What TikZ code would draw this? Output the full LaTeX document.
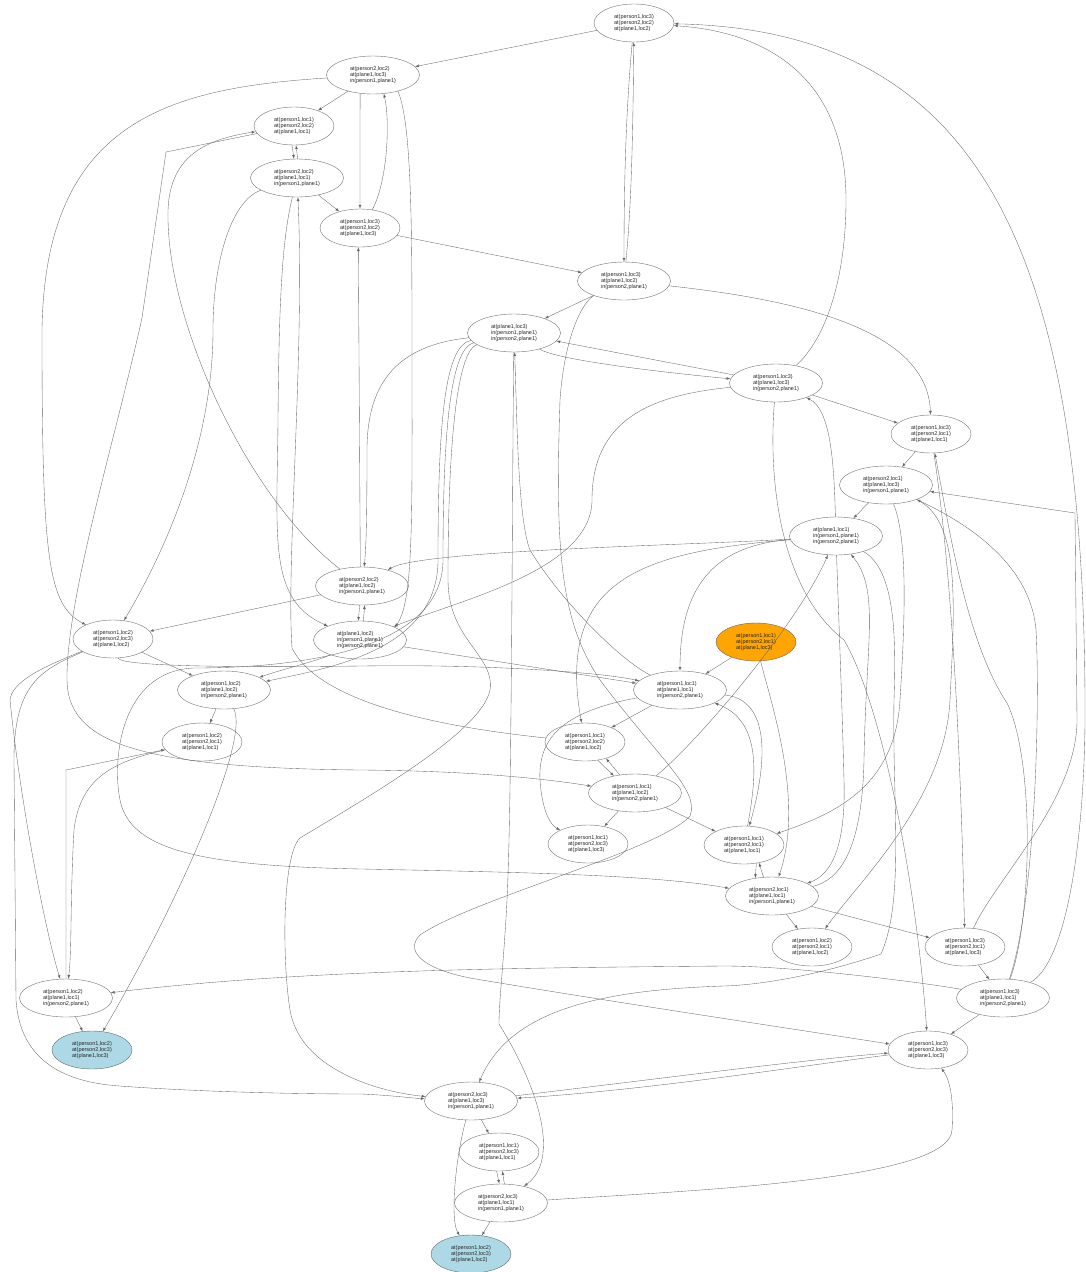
\documentclass[tikz,border=0pt]{standalone}
\usepackage{fontspec}
\setmainfont{Liberation Sans}
\usetikzlibrary{shapes.geometric}
\definecolor{lightblue}{HTML}{ADD8E6}
\definecolor{initorange}{HTML}{FFA500}
\tikzset{
  state/.style={ellipse, draw=black!55, line width=0.4pt, inner sep=0pt,
    minimum width=93pt, minimum height=38pt, align=left, text=black!85,
    font=\fontsize{5.5}{6.4}\selectfont},
  atstate/.style={state, minimum width=80pt},
  initstate/.style={atstate, fill=initorange, draw=black!60},
  goalstate/.style={atstate, fill=lightblue, draw=black!60},
  trans/.style={draw=black!60, line width=0.35pt, -latex},
}
\begin{document}
\begin{tikzpicture}[x=1pt,y=-1pt]
\useasboundingbox (0,0) rectangle (1086,1272);
% states
\node[atstate] (s01) at (634,23) {at(person1,loc3)\\at(person2,loc2)\\at(plane1,loc2)};
\node[state] (s02) at (373,75) {at(person2,loc2)\\at(plane1,loc3)\\in(person1,plane1)};
\node[atstate] (s03) at (294,126) {at(person1,loc1)\\at(person2,loc2)\\at(plane1,loc1)};
\node[state] (s04) at (297,178) {at(person2,loc2)\\at(plane1,loc1)\\in(person1,plane1)};
\node[atstate] (s05) at (360,228) {at(person1,loc3)\\at(person2,loc2)\\at(plane1,loc3)};
\node[state] (s06) at (624,281) {at(person1,loc3)\\at(plane1,loc2)\\in(person2,plane1)};
\node[state] (s07) at (514,333) {at(plane1,loc3)\\in(person1,plane1)\\in(person2,plane1)};
\node[state] (s08) at (776,383) {at(person1,loc3)\\at(plane1,loc3)\\in(person2,plane1)};
\node[atstate] (s09) at (931,434) {at(person1,loc3)\\at(person2,loc1)\\at(plane1,loc1)};
\node[state] (s10) at (886,485) {at(person2,loc1)\\at(plane1,loc3)\\in(person1,plane1)};
\node[state] (s11) at (836,536) {at(plane1,loc1)\\in(person1,plane1)\\in(person2,plane1)};
\node[initstate] (s12) at (756,642) {at(person1,loc1)\\at(person2,loc1)\\at(plane1,loc3)};
\node[state] (s13) at (362,586) {at(person2,loc2)\\at(plane1,loc2)\\in(person1,plane1)};
\node[state] (s14) at (360,640) {at(plane1,loc2)\\in(person1,plane1)\\in(person2,plane1)};
\node[atstate] (s15) at (113,639) {at(person1,loc2)\\at(person2,loc3)\\at(plane1,loc2)};
\node[state] (s16) at (224,690) {at(person1,loc2)\\at(plane1,loc2)\\in(person2,plane1)};
\node[atstate] (s17) at (202,742) {at(person1,loc2)\\at(person2,loc1)\\at(plane1,loc1)};
\node[state] (s18) at (680,690) {at(person1,loc1)\\at(plane1,loc1)\\in(person2,plane1)};
\node[atstate] (s19) at (585,742) {at(person1,loc1)\\at(person2,loc2)\\at(plane1,loc2)};
\node[state] (s20) at (635,793) {at(person1,loc1)\\at(plane1,loc2)\\in(person2,plane1)};
\node[atstate] (s21) at (588,844) {at(person1,loc1)\\at(person2,loc3)\\at(plane1,loc3)};
\node[atstate] (s22) at (744,845) {at(person1,loc1)\\at(person2,loc1)\\at(plane1,loc1)};
\node[state] (s23) at (772,896) {at(person2,loc1)\\at(plane1,loc1)\\in(person1,plane1)};
\node[atstate] (s24) at (812,947) {at(person1,loc2)\\at(person2,loc1)\\at(plane1,loc2)};
\node[atstate] (s25) at (965,947) {at(person1,loc3)\\at(person2,loc1)\\at(plane1,loc3)};
\node[state] (s26) at (1003,998) {at(person1,loc3)\\at(plane1,loc1)\\in(person2,plane1)};
\node[atstate] (s27) at (928,1050) {at(person1,loc3)\\at(person2,loc3)\\at(plane1,loc3)};
\node[state] (s28) at (66,998) {at(person1,loc2)\\at(plane1,loc1)\\in(person2,plane1)};
\node[goalstate] (s29) at (92,1050) {at(person1,loc2)\\at(person2,loc3)\\at(plane1,loc3)};
\node[state] (s30) at (471,1101) {at(person2,loc3)\\at(plane1,loc3)\\in(person1,plane1)};
\node[atstate] (s31) at (499,1152) {at(person1,loc1)\\at(person2,loc3)\\at(plane1,loc1)};
\node[state] (s32) at (501,1203) {at(person2,loc3)\\at(plane1,loc1)\\in(person1,plane1)};
\node[goalstate] (s33) at (471,1254) {at(person1,loc2)\\at(person2,loc3)\\at(plane1,loc2)};
% transitions, upper part
\draw[trans] (s01) -- (s02);
\draw[trans] (s01) .. controls (625,120) and (624,200) .. (s06);
\draw[trans] (s06) .. controls (632,200) and (633,120) .. (s01);
\draw[trans] (s26) .. controls (1070,960) and (1086,820) .. (1085,700) .. controls (1083,250) and (980,30) .. (s01);
\draw[trans] (s08) .. controls (825,340) and (846,280) .. (846,200) .. controls (846,80) and (770,32) .. (s01);
\draw[trans] (s02) -- (s03);
\draw[trans] (s02) .. controls (170,88) and (45,120) .. (42,330) .. controls (42,560) and (48,605) .. (s15);
\draw[trans] (s02.-125) -- (s05.north);
\draw[trans] (s05.56) .. controls (388,180) and (390,120) .. (s02.-60);
\draw[trans] (s02.-33) .. controls (410,120) and (412,200) .. (412,330) .. controls (412,520) and (414,600) .. (s14.20);
\draw[trans] (s03.-96) -- (s04.99);
\draw[trans] (s04.88) -- (s03.-84);
\draw[trans] (s04) -- (s05);
\draw[trans] (s13) .. controls (250,500) and (170,330) .. (168,220) .. controls (166,160) and (200,140) .. (s03);
\draw[trans] (s03) -- (166,152) -- (142,318) .. controls (115,440) and (66,600) .. (67,680) .. controls (68,740) and (130,768) .. (362,770) .. controls (470,771) and (540,778) .. (s20);
\draw[trans] (s04) .. controls (232,200) and (213,260) .. (213,330) .. controls (213,450) and (160,560) .. (s15);
\draw[trans] (s04) .. controls (282,240) and (279,300) .. (278,420) .. controls (277,540) and (268,600) .. (s14);
\draw[trans] (s19) .. controls (450,728) and (320,705) .. (292,648) .. controls (286,560) and (305,350) .. (s04);
\draw[trans] (s05) -- (s06);
\draw[trans] (s06) -- (s07);
\draw[trans] (s06) .. controls (800,300) and (928,330) .. (s09);
\draw[trans] (s08) -- (s07);
\draw[trans] (s07) .. controls (560,362) and (700,376) .. (s08);
\draw[trans] (s08) -- (s09);
\draw[trans] (s09) -- (s10);
\draw[trans] (s10) -- (s11);
\draw[trans] (s11) .. controls (834,470) and (832,410) .. (s08);
\draw[trans] (s08) .. controls (768,480) and (780,590) .. (844,640) .. controls (885,710) and (918,900) .. (s27);
\draw[trans] (s07) .. controls (400,345) and (367,380) .. (367,450) .. controls (367,520) and (366,550) .. (s13);
\draw[trans] (s13.95) -- (s05.-95);
\draw[trans] (s13.-97) -- (s14.95);
\draw[trans] (s14.80) -- (s13.-82);
\draw[trans] (s13) -- (s15);
\draw[trans] (s08) .. controls (650,395) and (592,420) .. (592,500) .. controls (592,570) and (460,600) .. (s14);
% transitions from the middle state
\draw[trans] (s07) .. controls (445,345) and (438,420) .. (438,560) .. controls (438,650) and (330,668) .. (s16);
\draw[trans] (s07) .. controls (452,348) and (443,420) .. (443,560) .. controls (443,650) and (300,668) .. (193,668) .. controls (120,672) and (112,760) .. (120,800) .. controls (130,850) and (200,866) .. (362,869) .. controls (500,872) and (650,874) .. (s23);
\draw[trans] (s07) .. controls (460,350) and (448,420) .. (448,580) .. controls (448,640) and (495,655) .. (490,690) .. controls (482,730) and (380,790) .. (300,838) .. controls (282,855) and (282,960) .. (290,1010) .. controls (300,1070) and (380,1092) .. (s30);
\draw[trans] (s18) .. controls (620,660) and (560,600) .. (530,550) .. controls (518,520) and (517,420) .. (s07);
\draw[trans] (s07) .. controls (512,500) and (512,800) .. (507,900) .. controls (504,960) and (499,1000) .. (499,1024) .. controls (540,1090) and (560,1160) .. (s32);
\draw[trans] (s06) .. controls (585,300) and (565,330) .. (560,400) .. controls (555,550) and (560,620) .. (600,680) .. controls (660,760) and (700,790) .. (690,816) .. controls (660,850) and (470,900) .. (420,935) .. controls (405,950) and (420,968) .. (470,978) .. controls (600,1000) and (800,1030) .. (s27);
% right part
\draw[trans] (s26) .. controls (1032,920) and (1035,760) .. (1007,703) .. controls (965,640) and (948,520) .. (s09);
\draw[trans] (s09) .. controls (956,600) and (962,820) .. (s25);
\draw[trans] (s25) -- (s26);
\draw[trans] (s26) -- (s27);
\draw[trans] (s10) .. controls (960,520) and (955,600) .. (950,700) .. controls (945,800) and (860,880) .. (s24);
\draw[trans] (s26) .. controls (1036,900) and (1040,700) .. (1036,630) .. controls (1030,560) and (960,520) .. (s10);
\draw[trans] (s25) .. controls (995,880) and (1077,800) .. (1077,720) -- (1075,513) -- (s10);
\draw[trans] (s10) .. controls (908,540) and (905,620) .. (900,700) .. controls (895,790) and (830,815) .. (s22);
\draw[trans] (s11) .. controls (896,570) and (896,640) .. (894,700) .. controls (892,800) and (905,900) .. (881,954) .. controls (820,975) and (760,985) .. (724,986) .. controls (600,990) and (510,1010) .. (s30);
\draw[trans] (s23) .. controls (840,880) and (862,850) .. (864,760) .. controls (866,640) and (880,590) .. (s11);
\draw[trans] (s11) .. controls (838,600) and (842,700) .. (844,780) .. controls (846,850) and (830,875) .. (s23);
\draw[trans] (s26) .. controls (940,985) and (800,966) .. (724,966) .. controls (500,968) and (300,970) .. (s28);
% lower middle
\draw[trans] (s11) .. controls (700,545) and (420,550) .. (s13);
\draw[trans] (s11) .. controls (720,545) and (680,580) .. (s18);
\draw[trans] (s11) .. controls (640,552) and (556,580) .. (s19);
\draw[trans] (s20) .. controls (700,740) and (800,620) .. (s11);
\draw[trans] (s12) -- (s18);
\draw[trans] (s12) .. controls (770,700) and (805,800) .. (s23);
\draw[trans] (s18) -- (s19);
\draw[trans] (s18) .. controls (560,712) and (538,740) .. (540,780) .. controls (542,810) and (550,825) .. (s21);
\draw[trans] (s18) .. controls (770,700) and (768,760) .. (s22);
\draw[trans] (s22) .. controls (758,770) and (760,720) .. (s18);
\draw[trans] (s19.-55) -- (s20.141);
\draw[trans] (s20.130) -- (s19.-38);
\draw[trans] (s20) -- (s21);
\draw[trans] (s20) -- (s22);
\draw[trans] (s22.-56) -- (s23.133);
\draw[trans] (s23.114) -- (s22.-50);
\draw[trans] (s23) -- (s24);
\draw[trans] (s23) -- (s25);
% left part
\draw[trans] (s15) -- (s16);
\draw[trans] (s16) -- (s17);
\draw[trans] (s15) .. controls (120,665) and (200,668) .. (362,666) .. controls (480,664) and (600,672) .. (s18);
\draw[trans] (s14) .. controls (320,660) and (280,670) .. (s16);
\draw[trans] (s14) -- (s18);
\draw[trans] (s16) .. controls (250,740) and (180,900) .. (s29);
\draw[trans] (s28) -- (s29);
\draw[trans] (s28) -- (66,770) -- (s17);
\draw[trans] (s17) .. controls (110,762) and (80,780) .. (74,830) .. controls (70,900) and (72,950) .. (s28);
\draw[trans] (s15) .. controls (40,668) and (12,682) .. (10,700) .. controls (20,800) and (45,930) .. (s28);
\draw[trans] (s15) .. controls (40,670) and (14,685) .. (14,760) -- (16,1000) .. controls (20,1058) and (60,1082) .. (120,1086) .. controls (200,1092) and (300,1094) .. (362,1094) .. controls (400,1096) and (410,1098) .. (s30);
% bottom
\draw[trans] (s30) .. controls (650,1080) and (800,1060) .. (s27);
\draw[trans] (s27) .. controls (800,1066) and (650,1090) .. (s30);
\draw[trans] (s32) .. controls (700,1190) and (950,1180) .. (952,1130) .. controls (954,1100) and (950,1080) .. (s27);
\draw[trans] (s30) -- (s31);
\draw[trans] (s31.-97) -- (s32.95);
\draw[trans] (s32.80) -- (s31.-80);
\draw[trans] (s32) -- (s33);
\draw[trans] (s30) .. controls (455,1160) and (450,1220) .. (s33);
\end{tikzpicture}
\end{document}
